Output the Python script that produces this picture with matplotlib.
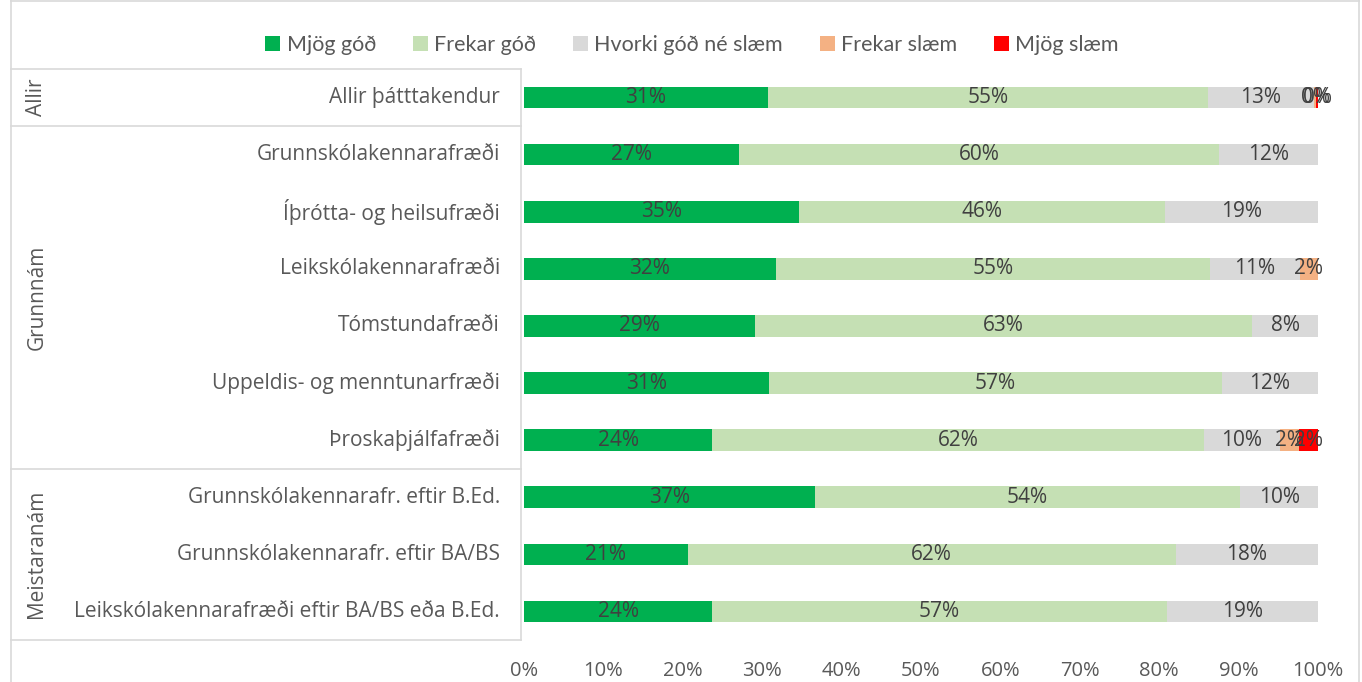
import numpy as np
import matplotlib.pyplot as plt
from matplotlib.lines import Line2D

plt.rcParams['font.family'] = ['Open Sans', 'DejaVu Sans']

categories = ['Allir þátttakendur',
              'Grunnskólakennarafræði',
              'Íþrótta- og heilsufræði',
              'Leikskólakennarafræði',
              'Tómstundafræði',
              'Uppeldis- og menntunarfræði',
              'Þroskaþjálfafræði',
              'Grunnskólakennarafr. eftir B.Ed.',
              'Grunnskólakennarafr. eftir BA/BS',
              'Leikskólakennarafræði eftir BA/BS eða B.Ed.']
groups = ['Allir', 'Grunnnám', 'Meistaranám']
group_sizes = [1, 6, 3]

series = ['Mjög góð', 'Frekar góð', 'Hvorki góð né slæm', 'Frekar slæm', 'Mjög slæm']
mjog_god = [30.7, 27.1, 34.6, 31.7, 29.1, 30.9, 23.7, 36.6, 20.6, 23.7]
frekar_god = [55.4, 60.4, 46.1, 54.7, 62.6, 57.0, 61.9, 53.6, 61.5, 57.3]
hvorki = [13.4, 12.5, 19.3, 11.3, 8.3, 12.1, 9.6, 9.8, 17.9, 19.0]
frekar_slaem = [0.3, 0, 0, 2.3, 0, 0, 2.4, 0, 0, 0]
mjog_slaem = [0.2, 0, 0, 0, 0, 0, 2.4, 0, 0, 0]
colors = ['#00B050', '#C5E0B4', '#D9D9D9', '#F4B183', '#FF0000']

W, H = 1362, 682
fig = plt.figure(figsize=(W / 100, H / 100), dpi=100)
ax_l, ax_r, ax_t, ax_b = 524, 1318, 69, 640
ax = fig.add_axes([ax_l / W, 1 - ax_b / H, (ax_r - ax_l) / W, (ax_b - ax_t) / H])

y = np.arange(len(categories))
left = np.zeros(len(categories))
txt = '#404040'
for name, vals, c in zip(series, [mjog_god, frekar_god, hvorki, frekar_slaem, mjog_slaem], colors):
    vals = np.array(vals)
    bars = ax.barh(y, vals, left=left, height=0.38, color=c, label=name)
    labels = ['%d%%' % round(v) if v > 0 else '' for v in vals]
    ax.bar_label(bars, labels=labels, label_type='center', fontsize=15, color=txt)
    left += vals

ax.set_xlim(0, 100)
ax.set_ylim(len(categories) - 0.5, -0.5)
ax.set_xticks(np.arange(0, 101, 10))
ax.set_xticklabels(['%d%%' % t for t in range(0, 101, 10)], fontsize=14.5, color='#595959')
ax.set_yticks([])
ax.tick_params(axis='x', length=0, pad=15)
for s in ax.spines.values():
    s.set_visible(False)

# category table on the left
line_c = '#D9D9D9'
tx0, tx1 = 11, 521
def fx(px):
    return px / W
def fy(py):
    return 1 - py / H

row_h = (ax_b - ax_t) / len(categories)
for i, cat in enumerate(categories):
    yc = ax_t + row_h * (i + 0.5)
    fig.text(fx(500), fy(yc), cat, ha='right', va='center', fontsize=15, color='#595959')

start = 0
bounds = [ax_t]
for g, n in zip(groups, group_sizes):
    y0 = ax_t + row_h * start
    y1 = ax_t + row_h * (start + n)
    fig.text(fx(37), fy((y0 + y1) / 2), g, rotation=90, ha='center', va='center',
             fontsize=15, color='#595959')
    bounds.append(y1)
    start += n
for b in bounds:
    fig.add_artist(Line2D([fx(tx0), fx(tx1)], [fy(b), fy(b)], color=line_c, lw=1.2))
fig.add_artist(Line2D([fx(tx1), fx(tx1)], [fy(ax_t), fy(ax_b)], color=line_c, lw=1.2))

# chart border
fig.add_artist(Line2D([fx(tx0), fx(tx0)], [0, 1], color=line_c, lw=1.2))
fig.add_artist(Line2D([fx(1359), fx(1359)], [0, 1], color=line_c, lw=1.2))
fig.add_artist(Line2D([fx(tx0), fx(1359)], [fy(1), fy(1)], color=line_c, lw=1.2))

leg = fig.legend(loc='center', bbox_to_anchor=(fx(692), fy(45)), ncol=5, frameon=False,
                 prop={'family': ['Lato', 'DejaVu Sans'], 'size': 15.5}, labelcolor='#595959',
                 handlelength=0.7, handleheight=0.7, handletextpad=0.3, columnspacing=1.7)

fig.savefig('out.png', dpi=100)
